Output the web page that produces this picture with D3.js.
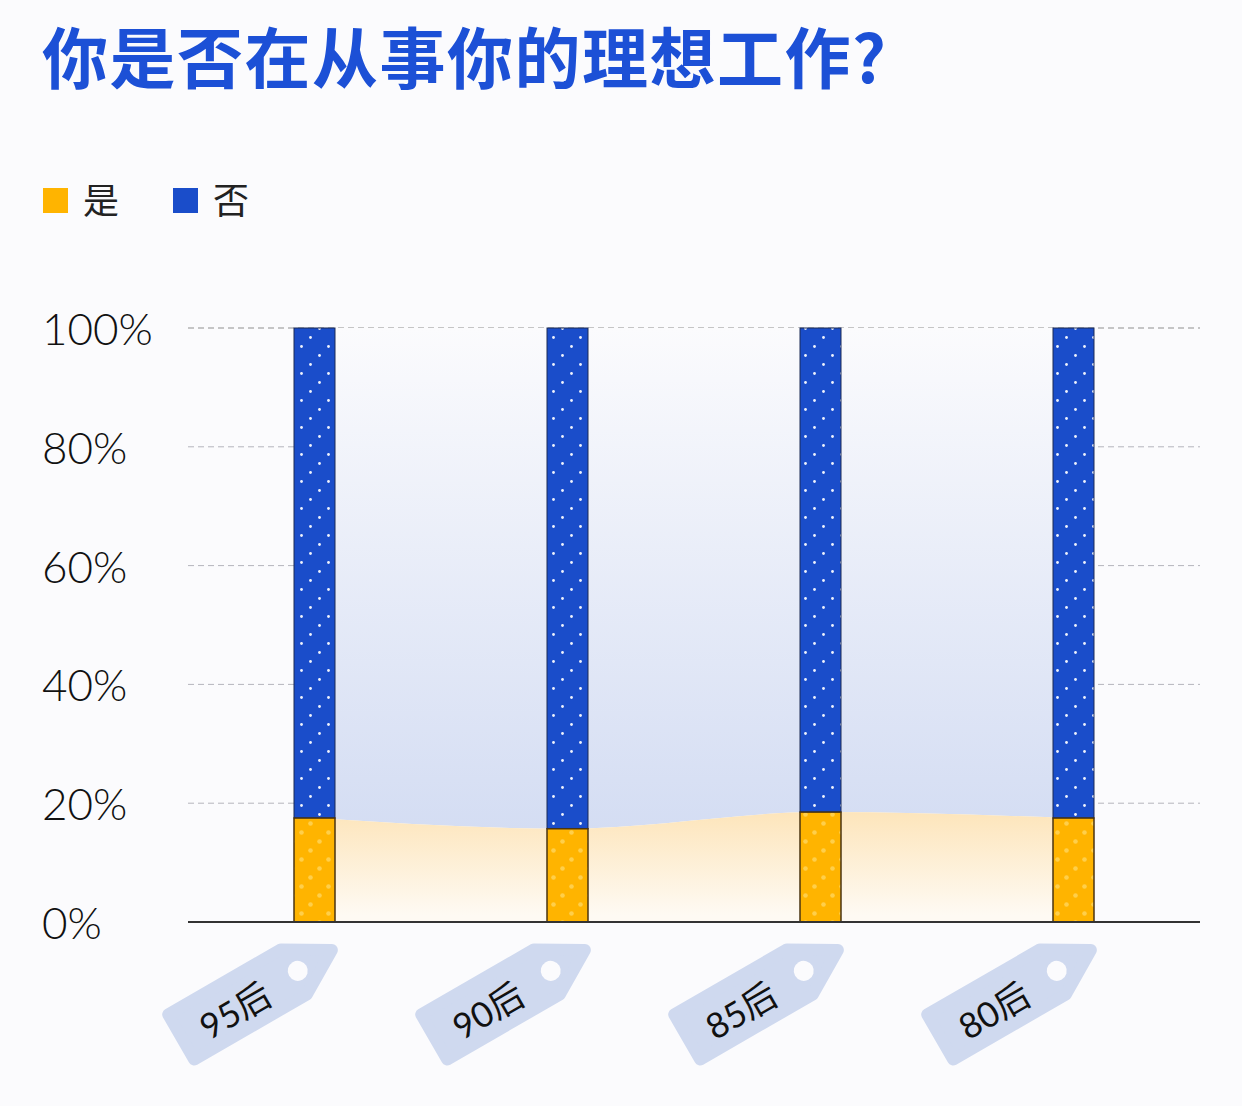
<!DOCTYPE html>
<html>
<head>
<meta charset="utf-8">
<script src="https://cdn.jsdelivr.net/npm/d3@7"></script>
<style>
  body { margin: 0; background: #fbfbfd; }
  svg { display: block; }
</style>
</head>
<body>
<div id="chart"></div>
<script>
// chart data
var categories = ["95后", "90后", "85后", "80后"];
var yesValues = [17.5, 15.7, 18.5, 17.5];   // 是
var noValues = [82.5, 84.3, 81.5, 82.5];    // 否
var yTicks = [0, 20, 40, 60, 80, 100];
var legendLabels = ["是", "否"];
var title = "你是否在从事你的理想工作?";

var width = 1242, height = 1106;
var colors = { yes: "#ffb400", no: "#1a4dca" };

var svg = d3.select("#chart").append("svg")
    .attr("width", width)
    .attr("height", height);

svg.append("rect")
    .attr("width", width)
    .attr("height", height)
    .attr("fill", "#fbfbfd");

var defs = svg.append("defs");

// dotted patterns for the bars (dots run down-left in diagonal lines)
function makePattern(id, base, dot, r) {
    var p = defs.append("pattern")
        .attr("id", id)
        .attr("patternUnits", "userSpaceOnUse")
        .attr("width", 27)
        .attr("height", 27);
    p.append("rect").attr("width", 27).attr("height", 27).attr("fill", base);
    [[22.5, 4.5], [13.5, 13.5], [4.5, 22.5]].forEach(function(c) {
        p.append("circle").attr("cx", c[0]).attr("cy", c[1]).attr("r", r).attr("fill", dot);
    });
}
makePattern("dotsNo", colors.no, "#eef2fd", 1.4);
makePattern("dotsYes", colors.yes, "#ffcf4a", 2.3);

// gradients for the background areas
var gBlue = defs.append("linearGradient")
    .attr("id", "gradNo")
    .attr("gradientUnits", "userSpaceOnUse")
    .attr("x1", 0).attr("x2", 0).attr("y1", 328).attr("y2", 830);
gBlue.append("stop").attr("offset", 0).attr("stop-color", "#fbfbfd");
gBlue.append("stop").attr("offset", 1).attr("stop-color", "#d4ddf3");

var gYellow = defs.append("linearGradient")
    .attr("id", "gradYes")
    .attr("gradientUnits", "userSpaceOnUse")
    .attr("x1", 0).attr("x2", 0).attr("y1", 812).attr("y2", 915);
gYellow.append("stop").attr("offset", 0).attr("stop-color", "#fde5bb");
gYellow.append("stop").attr("offset", 1).attr("stop-color", "#fefaf3");

// scales
var x = d3.scaleBand()
    .domain(categories)
    .range([188, 1200])
    .paddingInner(0.838)
    .paddingOuter(0.419);

var y = d3.scaleLinear()
    .domain([0, 100])
    .range([922, 328]);

var rows = categories.map(function(c, i) {
    return { cat: c, yes: yesValues[i], no: noValues[i] };
});

function cx(d) { return x(d.cat) + x.bandwidth() / 2; }

// title
svg.append("text")
    .attr("x", 42)
    .attr("y", 83)
    .attr("font-family", "'Noto Sans CJK SC', sans-serif")
    .attr("font-weight", 700)
    .attr("font-size", 66)
    .attr("letter-spacing", 1.5)
    .attr("fill", "#1c50d6")
    .text(title);

// legend
var legend = svg.append("g");
legendLabels.forEach(function(l, i) {
    var lx = 43 + i * 130;
    legend.append("rect")
        .attr("x", lx).attr("y", 188)
        .attr("width", 25).attr("height", 25)
        .attr("fill", i == 0 ? colors.yes : colors.no);
    legend.append("text")
        .attr("x", lx + 40)
        .attr("y", 198)
        .attr("dominant-baseline", "central")
        .attr("font-family", "'Noto Sans CJK SC', sans-serif")
        .attr("font-size", 36)
        .attr("fill", "#222")
        .text(l);
});

// grid lines + y labels
svg.append("g").selectAll("line")
    .data(yTicks.filter(function(t) { return t > 0; }))
    .join("line")
    .attr("x1", 188).attr("x2", 1200)
    .attr("y1", function(d) { return y(d); })
    .attr("y2", function(d) { return y(d); })
    .attr("stroke", function(d) { return d == 100 ? "#8f8f8f" : "#b4b4bc"; })
    .attr("stroke-width", 1)
    .attr("stroke-dasharray", "6,4");

svg.append("g").selectAll("text")
    .data(yTicks)
    .join("text")
    .attr("x", 42)
    .attr("y", function(d) { return y(d); })
    .attr("dominant-baseline", "central")
    .attr("font-family", "Lato, sans-serif")
    .attr("font-weight", 300)
    .attr("font-size", 44)
    .attr("fill", "#111")
    .text(function(d) { return d + "%"; });

// background areas between the bars
var areaNo = d3.area()
    .x(cx)
    .y0(function(d) { return y(d.yes); })
    .y1(function(d) { return y(d.yes + d.no); })
    .curve(d3.curveMonotoneX);

var areaYes = d3.area()
    .x(cx)
    .y0(y(0))
    .y1(function(d) { return y(d.yes); })
    .curve(d3.curveMonotoneX);

svg.append("path").datum(rows).attr("d", areaNo).attr("fill", "url(#gradNo)");
svg.append("path").datum(rows).attr("d", areaYes).attr("fill", "url(#gradYes)");

// bars
var bars = svg.append("g").selectAll("g")
    .data(rows)
    .join("g");

bars.append("rect")
    .attr("x", function(d) { return x(d.cat); })
    .attr("width", x.bandwidth())
    .attr("y", function(d) { return y(d.yes + d.no); })
    .attr("height", function(d) { return y(d.yes) - y(d.yes + d.no); })
    .attr("fill", "url(#dotsNo)")
    .attr("stroke", "#1b2a55")
    .attr("stroke-width", 1);

bars.append("rect")
    .attr("x", function(d) { return x(d.cat); })
    .attr("width", x.bandwidth())
    .attr("y", function(d) { return y(d.yes); })
    .attr("height", function(d) { return y(0) - y(d.yes); })
    .attr("fill", "url(#dotsYes)")
    .attr("stroke", "#4a3410")
    .attr("stroke-width", 1.5);

// baseline
svg.append("line")
    .attr("x1", 188).attr("x2", 1200)
    .attr("y1", y(0)).attr("y2", y(0))
    .attr("stroke", "#333")
    .attr("stroke-width", 2);

// tag-shaped category labels
var tagColor = "#cfd9ef";
var tags = svg.append("g").selectAll("g")
    .data(rows)
    .join("g")
    .attr("transform", function(d) {
        return "translate(" + (cx(d) - 138.5) + ",1040) rotate(-30)";
    });

tags.append("path")
    .attr("d", "M6,-26 L136,-26 L180,0 L136,26 L6,26 Z")
    .attr("fill", tagColor)
    .attr("stroke", tagColor)
    .attr("stroke-width", 12)
    .attr("stroke-linejoin", "round");

tags.append("circle")
    .attr("cx", 140).attr("cy", 1)
    .attr("r", 10)
    .attr("fill", "#fbfbfd");

tags.append("text")
    .attr("x", 66).attr("y", 3)
    .attr("text-anchor", "middle")
    .attr("dominant-baseline", "central")
    .attr("font-family", "Lato, 'Noto Sans CJK SC', sans-serif")
    .attr("font-size", 35)
    .attr("fill", "#111")
    .text(function(d) { return d.cat; });
</script>
</body>
</html>
